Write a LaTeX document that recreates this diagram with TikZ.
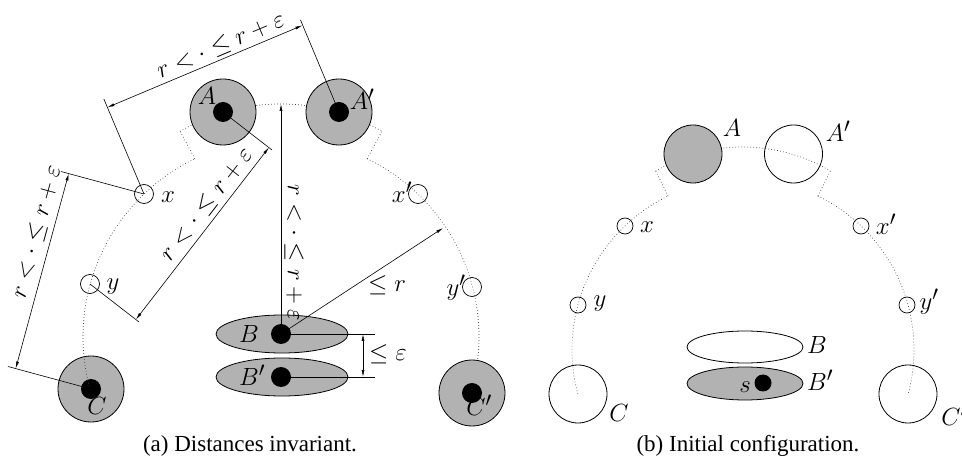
\documentclass[tikz,border=0pt]{standalone}
\usepackage{fontspec}
\setmainfont{Liberation Serif}
\usetikzlibrary{arrows.meta,shapes.geometric}
\definecolor{fillg}{gray}{0.7}
\begin{document}
\begin{tikzpicture}[x=1pt,y=-1pt,
  bigA/.style={circle,draw,line width=0.8pt,fill=fillg,minimum size=66pt,inner sep=0pt},
  bigB/.style={circle,draw,line width=0.8pt,minimum size=58pt,inner sep=0pt},
  smallc/.style={circle,draw,line width=0.7pt,minimum size=19pt,inner sep=0pt},
  blackdot/.style={circle,fill=black,minimum size=20pt,inner sep=0pt},
  oval/.style={ellipse,draw,line width=0.8pt,fill=fillg,minimum width=132pt,minimum height=38pt,inner sep=0pt},
  lab/.style={font=\fontsize{24.88}{30}\selectfont,inner sep=0pt},
  captxt/.style={font=\fontsize{23}{28}\selectfont,inner sep=0pt,anchor=base},
  dots/.style={line width=0.7pt,dash pattern=on 0.7pt off 2.3pt,black!75},
  ext/.style={line width=0.6pt},
  dim/.style={line width=0.6pt,{Latex[length=7pt,width=3pt]}-{Latex[length=7pt,width=3pt]}},
  tip/.style={line width=0.6pt,-{Latex[length=7pt,width=3pt]}}
]
\useasboundingbox (0,0) rectangle (962,462);

% ================= panel (a) =================
\node[bigA] (C) at (91,389) {};
\node[blackdot] (Cd) at (C) {};
% dotted arcs
\draw[dots] plot[domain=164.7:244.2,samples=80] ({281+198*cos(\x)},{337+198*sin(\x)});
\draw[dots] plot[domain=-64.2:15.3,samples=80] ({281+198*cos(\x)},{337+198*sin(\x)});
\draw[dots] plot[domain=-120.3:-59.7,samples=80] ({281+200*cos(\x)},{304+200*sin(\x)});
\coordinate (zl1) at ({281+198*cos(244.2)},{337+198*sin(244.2)});
\coordinate (zl2) at ({281+200*cos(-120.3)},{304+200*sin(-120.3)});
\coordinate (zr1) at ({281+198*cos(-64.2)},{337+198*sin(-64.2)});
\coordinate (zr2) at ({281+200*cos(-59.7)},{304+200*sin(-59.7)});
\draw[dots] (zl1) -- (zl2);
\draw[dots] (zr1) -- (zr2);

\node[bigA] (A) at (223,112) {};
\node[blackdot] (Ad) at (A) {};
\node[bigA] (Ap) at (339,112) {};
\node[blackdot] (Apd) at (Ap) {};
\node[bigA] (Cp) at (472,393) {};
\node[blackdot] (Cpd) at (Cp) {};
\node[smallc] (x) at (144,194) {};
\node[smallc] (y) at (90,284) {};
\node[smallc] (xp) at (418,194) {};
\node[smallc] (yp) at (472,287) {};
\node[oval] (B) at (282,334) {};
\node[oval] (Bp) at (282,377) {};
\node[blackdot] (Bd) at (281,334) {};
\node[blackdot] (Bpd) at (281,377) {};

\node[lab] (lA) at (207,96) {$A$};
\node[lab] (lAp) at (362,99) {$A'$};
\node[lab] (lC) at (97,406) {$C$};
\node[lab] (lCp) at (479,405) {$C'$};
\node[lab] (lx) at (168,197) {$x$};
\node[lab] (ly) at (113,287) {$y$};
\node[lab] (lxp) at (402,192) {$x'$};
\node[lab] (lyp) at (456,288) {$y'$};
\node[lab] (lB) at (249,334) {$B$};
\node[lab] (lBp) at (252,375) {$B'$};

% dimension x -- A'
\coordinate (d1a) at (107.4,107.4);
\coordinate (d1b) at (302.4,25.4);
\coordinate (e1a) at (103.9,99.1);
\coordinate (e1b) at (300.5,20);
\draw[ext] (x.center) -- (e1a);
\draw[ext] (Ap.center) -- (e1b);
\draw[dim] (d1a) -- (d1b);
\node[lab,rotate=22.9] (L1) at (221,46) {$r<\cdot\le r+\varepsilon$};

% dimension x -- C
\coordinate (d2a) at (68.7,173.6);
\coordinate (d2b) at (15.7,368.6);
\coordinate (e2a) at (61,171.5);
\coordinate (e2b) at (8,366.5);
\draw[ext] (x.center) -- (e2a);
\draw[ext] (C.center) -- (e2b);
\draw[dim] (d2a) -- (d2b);
\node[lab,rotate=74.8] (L2) at (37,232) {$r<\cdot\le r+\varepsilon$};

% dimension A -- y
\coordinate (d3a) at (268.9,147.5);
\coordinate (d3b) at (135.9,319.5);
\coordinate (e3a) at (272,150);
\coordinate (e3b) at (139,322);
\draw[ext] (A.center) -- (e3a);
\draw[ext] (y.center) -- (e3b);
\draw[dim] (d3a) -- (d3b);
\node[lab,rotate=52.3] (L3) at (207,205) {$r<\cdot\le r+\varepsilon$};

% vertical B -- arc
\coordinate (top) at (281,104);
\draw[tip] (Bd.center) -- (top);
\node[lab,rotate=-90] (L4) at (294,253) {$r<\cdot\le r+\varepsilon$};

% B -- B'
\coordinate (e5a) at (375,334);
\coordinate (e5b) at (375,377);
\draw[ext] (Bd.center) -- (e5a);
\draw[ext] (Bpd.center) -- (e5b);
\coordinate (d5a) at (363,334);
\coordinate (d5b) at (363,377);
\draw[dim] (d5a) -- (d5b);
\node[lab] (L5) at (388,354) {$\le\varepsilon$};

% B -- arc (<= r)
\coordinate (d6) at (443,228);
\draw[tip] (Bd.center) -- (d6);
\node[lab] (L6) at (387,285) {$\le r$};

\node[captxt] (capa) at (250,452) {(a) Distances invariant.};

% ================= panel (b) =================
\draw[dots] plot[domain=165:244,samples=80] ({743+171*cos(\x)},{349.7+171*sin(\x)});
\draw[dots] plot[domain=-64:15,samples=80] ({743+171*cos(\x)},{349.7+171*sin(\x)});
\draw[dots] plot[domain=-120.7:-59.3,samples=80] ({743+171*cos(\x)},{318+171*sin(\x)});
\coordinate (bzl1) at ({743+171*cos(244)},{349.7+171*sin(244)});
\coordinate (bzl2) at ({743+171*cos(-120.7)},{318+171*sin(-120.7)});
\coordinate (bzr1) at ({743+171*cos(-64)},{349.7+171*sin(-64)});
\coordinate (bzr2) at ({743+171*cos(-59.3)},{318+171*sin(-59.3)});
\draw[dots] (bzl1) -- (bzl2);
\draw[dots] (bzr1) -- (bzr2);

\node[bigB,fill=fillg] (bA) at (693,154) {};
\node[bigB] (bAp) at (793.5,154) {};
\node[bigB] (bC) at (578,394) {};
\node[bigB] (bCp) at (908,394) {};
\node[smallc,minimum size=16pt] (bx) at (625,226) {};
\node[smallc,minimum size=16pt] (by) at (578,305) {};
\node[smallc,minimum size=16pt] (bxp) at (861,226) {};
\node[smallc,minimum size=16pt] (byp) at (907,305) {};
\node[oval,fill=none,minimum width=116pt,minimum height=32pt] (bB) at (745,347) {};
\node[oval,minimum width=116pt,minimum height=33pt] (bBp) at (745,383.5) {};
\node[blackdot,minimum size=17pt] (bs) at (763,383) {};

\node[lab] (blA) at (732,128) {$A$};
\node[lab] (blAp) at (838,131) {$A'$};
\node[lab] (blx) at (647,227) {$x$};
\node[lab] (blxp) at (886,224) {$x'$};
\node[lab] (bly) at (600,304) {$y$};
\node[lab] (blyp) at (929,302) {$y'$};
\node[lab] (blC) at (619,413) {$C$};
\node[lab] (blCp) at (954,415) {$C'$};
\node[lab] (blB) at (817,345) {$B$};
\node[lab] (blBp) at (820,380) {$B'$};
\node[lab] (bls) at (745,387) {$s$};

\node[captxt] (capb) at (748,452) {(b) Initial configuration.};
\end{tikzpicture}
\end{document}
